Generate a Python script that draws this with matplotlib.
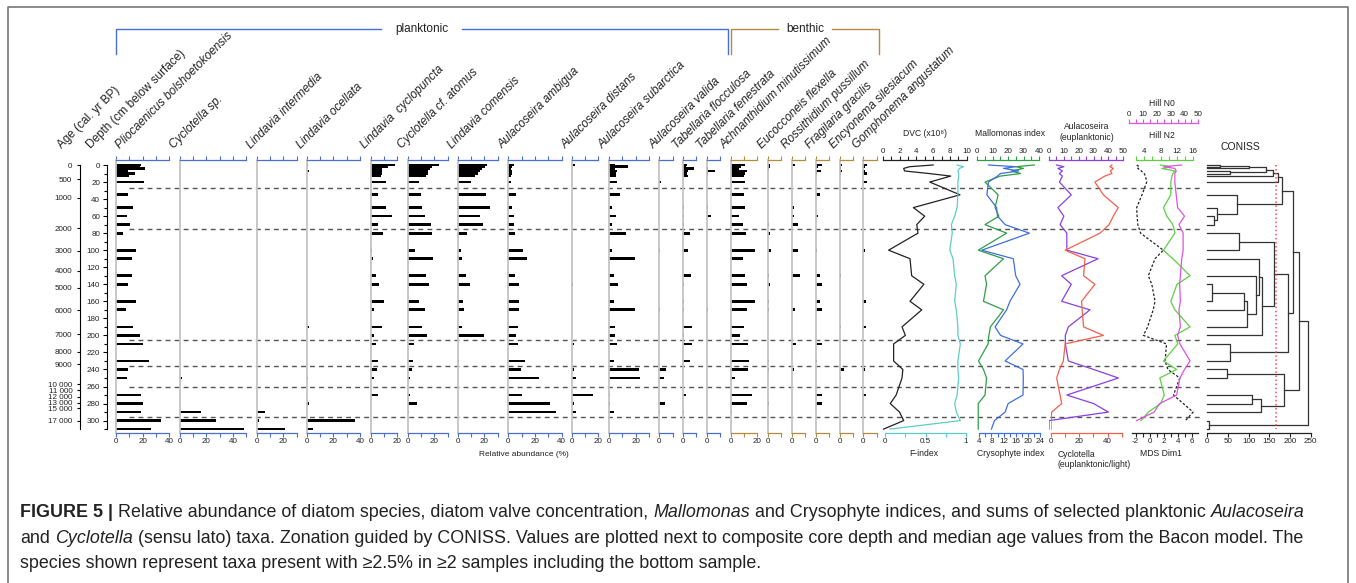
# Diatom stratigraphy: species bars, summary curves and CONISS, drawn on one pixel grid.

import numpy as np
import matplotlib
matplotlib.use("Agg")
import matplotlib.pyplot as plt
from matplotlib.transforms import blended_transform_factory

plt.rcParams["font.family"] = ["Liberation Sans", "DejaVu Sans"]

nan = np.nan

# ---- values (one entry per sample depth) ----
DEPTHS = [0, 2, 4, 7, 10, 13, 20, 35, 50, 60, 70, 80, 100, 110, 130, 140, 160, 170,
          190, 200, 210, 230, 240, 250, 270, 280, 290, 300, 310]

AGE_LABELS = ["0", "500", "1000", "2000", "3000", "4000", "5000", "6000", "7000", "8000",
              "9000", "10 000", "11 000", "12 000", "13 000", "15 000", "17 000"]
AGE_DEPTHS = [0, 16.8, 38.4, 74.3, 100.9, 124.4, 144, 170.6, 198.8, 219.2, 234, 257.5,
              264.1, 272, 279, 285.6, 300]
ZONE_DEPTHS = [27.5, 75, 205.5, 236.5, 261, 295.5]

PLIOCAENICUS = [19, 18, 22, 9, 14, 10, 21, 9, 13, 8, 10.5, 5, 15, 12, 12, 9, 15, 7.5, 12.5, 18,
                20.5, 24.5, 9, 8, 18.5, 20, 19, 34, 26]
CYCLOTELLA_SP = [0, 0, 0, 0, 0, 0, 0, 0, 0, 0, 0, 0, 0, 0, 0, 0, 0, 0, 0, 0,
                 0, 0, 0, 2, 0, 0, 16, 27, 48]
L_INTERMEDIA = [0, 0, 0, 0, 0, 0, 0, 0, 0, 0, 0, 0, 0, 0, 0, 0, 0, 0, 0, 0,
                0, 0, 0, 0, 0, 0, 6, 1.5, 21]
L_OCELLATA = [1, 0.5, 0, 1.5, 0, 0, 0.5, 0.5, 0.5, 0, 0.5, 0, 0, 0.5, 0, 0, 0, 0.5, 1.5, 0.5,
              0, 0, 0, 1, 0, 1.5, 0, 36, 4.5]
L_CYCLOPUNCTA = [18.5, 13.5, 9, 8.5, 9, 8, 12, 6, 12, 16, 6, 9.5, 1.5, 2, 4, 6.5, 10, 3, 9, 3,
                 4.5, 6, 5, 2.5, 6, 0, 0, 0, 0]
C_ATOMUS = [23.5, 18, 17, 15.5, 15, 14, 8.5, 10, 11, 13, 17.5, 18, 5.5, 19, 13.5, 16, 8.5, 13,
            11, 14.5, 5, 4, 3, 1.5, 1.5, 7, 1, 0, 0]
L_COMENSIS = [22, 20.5, 18, 17, 15, 13, 10, 21, 24, 17, 19, 7, 2.5, 3.5, 6, 9, 4, 5, 3, 20,
              0, 1, 0.5, 0.5, 0.5, 0.5, 0, 0, 0]
A_AMBIGUA = [4, 3, 2, 3, 3, 2, 2, 6, 3, 4, 4, 5, 11, 14, 5, 8, 8, 8, 7.5, 6,
             7, 12.5, 9.5, 23, 10.5, 31, 35.5, 0, 0]
A_DISTANS = [2.5, 0, 0, 0, 0, 0, 0.5, 0.5, 0, 0, 0.5, 0, 0, 0, 0.5, 1, 0, 0, 0, 0,
             2, 0, 1.5, 3.5, 16, 2, 3, 0, 0]
A_SUBARCTICA = [4.5, 14, 4.5, 6, 5, 5, 6, 8, 2, 5, 2.5, 13, 2, 19.5, 4, 7, 4, 19.5, 4.5, 4.5,
                6, 4, 22.5, 23, 1, 0.5, 4, 0, 0]
A_VALIDA = [0, 0, 0, 0, 0, 0, 1.5, 0, 0, 0, 0, 0, 0.5, 0, 0, 0, 0, 0.5, 0, 0,
            0, 0, 5, 3.5, 0, 4, 0.5, 0, 0]
T_FLOCCULOSA = [3, 2, 8.5, 4, 3, 4, 0, 0, 1, 1, 1, 5, 4, 0, 6, 1, 1, 1, 7, 1,
                6.5, 5, 0, 0, 2, 0, 1, 0, 0]
T_FENESTRATA = [0, 0, 1, 6, 1, 0, 0, 0, 1, 3, 0.5, 0, 0, 0.5, 0.5, 0, 0, 1, 0, 0,
                0, 0, 0, 0, 0, 0, 0, 0, 0]
ACHNANTHIDIUM = [11, 8, 6.5, 12, 11, 10, 11, 10, 11, 6, 9, 11.5, 18, 9, 11, 12, 18, 12, 10, 7,
                 13, 14, 13, 3, 16, 12.5, 1, 0, 0]
EUCOCCONEIS = [2, 1.5, 1, 0.5, 0, 0, 0.5, 0.5, 0.5, 0, 1, 2, 2.5, 0, 1, 2, 1, 1, 0.5, 0.5,
               0, 1, 1, 0, 0, 1, 0, 0, 0]
ROSSITHIDIUM = [2.5, 0, 0, 0, 0.5, 0, 0, 0, 2, 2, 5, 0, 5, 0, 6.5, 0, 0, 2.5, 0, 0.5,
                3, 0, 2, 0, 0, 0.5, 0, 0, 0]
FRAGILARIA = [5, 2, 0, 4, 1, 0, 0, 3, 0, 2, 0, 0, 1, 0, 3, 5, 3, 4.5, 0, 0,
              5, 1, 0, 0, 5, 4.5, 0, 0, 0]
ENCYONEMA = [2, 1, 1, 1.5, 1, 0, 0, 0, 0.5, 0.5, 0.5, 0, 0, 0, 1, 0, 0, 0, 1, 0,
             0, 0, 3, 1, 0, 0, 0, 0, 0]
GOMPHONEMA = [2.5, 1, 0, 1, 3, 0, 3, 0, 0, 0, 0, 0, 1, 0, 0, 0, 2, 0, 2, 0,
              0, 0, 1, 0, 2, 0, 0, 0, 0]

DVC = [6.0, 3.2, 2.5, 2.6, 5.5, 8.1, 5.6, 9.2, 3.65, 5.0, 4.05, 4.2, 0.7, 3.25, 3.45, 4.9,
       3.25, 4.65, 2.3, 2.7, 1.3, 1.3, 2.4, 2.3, 1.6, 0.9, 2.0, 2.5, 0.1]
F_INDEX = [0.89, 0.97, 0.92, 0.9, 0.91, 0.91, 0.9, 0.9, 0.89, 0.86, 0.82, 0.83, 0.8, 0.84,
           0.86, 0.88, 0.86, 0.88, 0.9, 0.9, 0.93, 0.9, 0.9, 0.91, 0.89, 0.86, 0.88, 0.93, 0.06]
MALLOMONAS = [37, 25, 30, 22, 28, 15, 5, 13.5, 11.5, 14, 5, 19, 0.6, 17, 5, 6, 4, 17, 8.5, 7.5,
              7, 0.8, 4, 6, 5, 0.6, 0.6, 0.6, 0.6]
CRYSOPHYTE = [7, 16, 12, 17, 11, 10, 7, 6.5, 9.7, 10, 12.5, 20.5, 4.8, 15.2, 16, 17.4, 14.1,
              13, 9.2, 11, 18.4, 12.5, 18.4, 18.5, 18.4, 13.5, 12.5, 9, 8]
AULACOSEIRA_EU = [5, 10, 6, 9, 7, 9, 7, 15, 6, 10, 7.5, 12, 12, 33, 8.5, 15, 8.5, 27.6, 13, 11,
                  11, 13, 30, 46.7, 12, 30, 40, 0, 0]
CYCLOTELLA_EU = [43, 41.6, 44, 42, 43, 38, 31, 37, 47.5, 44, 41, 34.6, 10, 24, 23, 31, 21.6, 22,
                 23, 37, 10, 8.7, 6, 4, 6.4, 7.5, 0.5, 0, 0]
MDS_DIM1 = [-1.86, -1.5, -1.7, -1.2, -0.8, -0.6, -0.43, -1.1, -1.86, -1.8, -1.7, -1.3, 1.95,
            0.76, -0.2, 0.3, 0.76, 0.5, -0.3, -0.9, 2.4, 2.2, 2.6, 4.3, 3.4, 4.8, 6.2, 5.1, nan]
HILL_N2 = [8, 10.5, 8.3, 11.5, 11, 10.8, 10.5, 10.5, 8.7, 9.5, 11, 11.5, 8.7, 11, 15.2, 12,
           10.5, 11.5, 15.2, 11.5, 12.2, 8.7, 11.9, 7.8, 8.9, 8, 5, 3.2, nan]
HILL_N0 = [38, 25, 33, 34, 33, 33, 33, 34, 35, 40, 36, 39, 39, 38, 37, 36.5, 37, 36, 37, 35,
           36.7, 44, 40, 36.7, 34.3, 22, 18, 5.3, nan]

# CONISS merges: (node a, node b, total sum of squares); leaves are sample indices,
# each merge gets the next node number
CONISS_MERGES = [
    (0, 1, 30), (29, 2, 101), (3, 4, 55), (30, 31, 143), (32, 5, 160), (33, 6, 170),
    (9, 10, 16), (8, 35, 23), (7, 36, 71), (34, 37, 180), (11, 12, 77), (15, 16, 11),
    (40, 17, 88), (41, 18, 96), (14, 42, 118), (13, 43, 124), (44, 19, 133), (39, 45, 161),
    (20, 21, 56), (46, 47, 196), (38, 48, 208), (22, 23, 48), (24, 25, 107), (51, 26, 131),
    (50, 52, 185), (49, 53, 222), (27, 28, 4), (54, 55, 244),
]
CONISS_CUT = 166

# ---- layout (pixels of the 1356x583 canvas) ----
W, H = 1356, 583
TOP_PX, BOTTOM_PX = 160, 433
DEPTH0_PX, PX_PER_CM = 165, 0.852
PCT_PX = 1.333
BLUE, GOLD = "#4a6fd0", "#b48c3c"
INK = "#222222"

PLANKTONIC, BENTHIC = BLUE, GOLD
SPECIES = [
    ("Pliocaenicus bolshoetokoensis", PLIOCAENICUS, 40, PLANKTONIC),
    ("Cyclotella sp.", CYCLOTELLA_SP, 50, PLANKTONIC),
    ("Lindavia intermedia", L_INTERMEDIA, 30, PLANKTONIC),
    ("Lindavia ocellata", L_OCELLATA, 40, PLANKTONIC),
    ("Lindavia  cyclopuncta", L_CYCLOPUNCTA, 20, PLANKTONIC),
    ("Cyclotella cf. atomus", C_ATOMUS, 30, PLANKTONIC),
    ("Lindavia comensis", L_COMENSIS, 30, PLANKTONIC),
    ("Aulacoseira ambigua", A_AMBIGUA, 40, PLANKTONIC),
    ("Aulacoseira distans", A_DISTANS, 20, PLANKTONIC),
    ("Aulacoseira subarctica", A_SUBARCTICA, 30, PLANKTONIC),
    ("Aulacoseira valida", A_VALIDA, 10, PLANKTONIC),
    ("Tabellaria flocculosa", T_FLOCCULOSA, 10, PLANKTONIC),
    ("Tabellaria fenestrata", T_FENESTRATA, 10, PLANKTONIC),
    ("Achnanthidium minutissimum", ACHNANTHIDIUM, 20, BENTHIC),
    ("Eucocconeis flexella", EUCOCCONEIS, 10, BENTHIC),
    ("Rossithidium pussillum", ROSSITHIDIUM, 10, BENTHIC),
    ("Fragilaria gracilis", FRAGILARIA, 10, BENTHIC),
    ("Encyonema silesiacum", ENCYONEMA, 10, BENTHIC),
    ("Gomphonema angustatum", GOMPHONEMA, 10, BENTHIC),
]
PANEL_X = [116, 179.7, 256.7, 306.7, 370.5, 407.7, 457.7, 508.3, 571.7, 609, 659.3, 683,
           706.7, 730.7, 767.7, 791.7, 815.7, 839.7, 863.3]

CAPTION = [
    [("FIGURE 5 |", "bold"),
     ("Relative abundance of diatom species, diatom valve concentration,", "normal"),
     ("Mallomonas", "italic"),
     ("and Crysophyte indices, and sums of selected planktonic", "normal"),
     ("Aulacoseira", "italic")],
    [("and", "normal"), ("Cyclotella", "italic"),
     ("(sensu lato) taxa. Zonation guided by CONISS. Values are plotted next to composite "
      "core depth and median age values from the Bacon model. The", "normal")],
    [("species shown represent taxa present with \u22652.5% in \u22652 samples including "
      "the bottom sample.", "normal")],
]
CAPTION_Y = [517, 543, 568]
CAPTION_SIZE = 12.9

fig = plt.figure(figsize=(W / 100, H / 100), dpi=100)

overlay = fig.add_axes([0, 0, 1, 1])
overlay.set_axis_off()
overlay.set_xlim(0, W)
overlay.set_ylim(H, 0)


def px_axes(x0, x1):
    ax = fig.add_axes([x0 / W, 1 - BOTTOM_PX / H, (x1 - x0) / W, (BOTTOM_PX - TOP_PX) / H])
    ax.patch.set_alpha(0)
    ax.set_ylim((BOTTOM_PX - DEPTH0_PX) / PX_PER_CM, (TOP_PX - DEPTH0_PX) / PX_PER_CM)
    ax.set_yticks([])
    for spine in ax.spines.values():
        spine.set_visible(False)
    return ax


def tick_labels(ticks, every):
    return [f"{t:g}" if np.isclose(t / every, round(t / every)) else "" for t in ticks]


def value_axes(x0, x1, lim, side, color, ticks, labels, offset=0):
    ax = px_axes(x0, x1)
    ax.set_xlim(*lim)
    spine = ax.spines[side]
    spine.set_visible(True)
    spine.set_color(color)
    spine.set_linewidth(0.9)
    if offset:
        spine.set_position(("outward", offset))
    ax.xaxis.set_ticks_position(side)
    ax.set_xticks(ticks, labels)
    ax.tick_params(axis="x", colors=color, labelcolor=INK, labelsize=5.8,
                   length=2.6, width=0.8, pad=1.2)
    return ax


# ---- age and depth scales ----
age_ax = px_axes(80, 81)
age_ax.spines["left"].set_visible(True)
age_ax.spines["left"].set_bounds(0, 310)
age_ax.set_yticks(AGE_DEPTHS, AGE_LABELS)
age_ax.set_xticks([])
age_ax.tick_params(axis="y", length=2.5, width=0.8, pad=3, labelsize=5.8, labelcolor=INK)

depth_ax = px_axes(107, 108)
depth_ax.spines["left"].set_visible(True)
depth_ax.spines["left"].set_bounds(0, 310)
depth_ax.set_yticks(np.arange(0, 301, 20))
depth_ax.set_yticks(np.arange(10, 311, 20), minor=True)
depth_ax.set_xticks([])
depth_ax.tick_params(axis="y", which="major", length=3, width=0.8, pad=2, labelsize=5.8,
                     labelcolor=INK)
depth_ax.tick_params(axis="y", which="minor", length=2, width=0.8)

# ---- species panels ----
ref_ax = None
for i, ((name, values, xmax, color), x0) in enumerate(zip(SPECIES, PANEL_X)):
    ax = px_axes(x0, x0 + xmax * PCT_PX)
    ax.set_xlim(0, xmax)
    ax.barh(DEPTHS, values, height=3.2, color="black", linewidth=0)
    ax.spines["left"].set_visible(True)
    ax.spines["left"].set_color("#c4c4c4")
    ax.spines["left"].set_linewidth(1.3)
    for side in ("top", "bottom"):
        ax.spines[side].set_visible(True)
        ax.spines[side].set_color(color)
        ax.spines[side].set_linewidth(0.9)
    ticks = np.arange(0, xmax + 1, 10)
    ax.set_xticks(ticks, tick_labels(ticks, 20))
    ax.tick_params(axis="x", top=True, bottom=True, labeltop=False, colors=color,
                   labelcolor=INK, labelsize=5.8, length=2.6, width=0.8, pad=1.2)
    dx = 4 if i == 0 else -6
    overlay.text(x0 + dx, 149, name, rotation=45, rotation_mode="anchor", ha="left",
                 va="baseline", fontsize=8.5, style="italic", color=INK)
    ref_ax = ax

overlay.text(62, 149, "Age (cal. yr BP)", rotation=45, rotation_mode="anchor", ha="left",
             va="baseline", fontsize=8.5, color=INK)
overlay.text(91, 149, "Depth (cm below surface)", rotation=45, rotation_mode="anchor",
             ha="left", va="baseline", fontsize=8.5, color=INK)
overlay.text(523.7, 454, "Relative abundance (%)", ha="center", va="center", fontsize=6,
             color=INK)

# ---- summary curves ----
TEAL, GREEN, CBLUE = "#5ccfc4", "#2f9e46", "#3f6fe0"
PURPLE, RED, LGREEN, MAGENTA = "#8a40e0", "#f2604c", "#5ccf45", "#e052e0"

ax = value_axes(882.7, 966.7, (0, 10), "top", INK, np.arange(0, 11, 1),
                tick_labels(np.arange(0, 11, 1), 2))
ax.plot(DVC, DEPTHS, color="#222222", lw=0.9)
ax = value_axes(885, 966, (0, 1), "bottom", TEAL, [0, 0.25, 0.5, 0.75, 1],
                ["0", "", "0.5", "", "1"])
ax.plot(F_INDEX, DEPTHS, color=TEAL, lw=0.9)

ax = value_axes(977.3, 1039, (0, 40), "top", GREEN, np.arange(0, 41, 5),
                tick_labels(np.arange(0, 41, 5), 10))
ax.plot(MALLOMONAS, DEPTHS, color=GREEN, lw=0.9)
ax = value_axes(979.3, 1040, (4, 24), "bottom", CBLUE, np.arange(4, 25, 2),
                tick_labels(np.arange(4, 25, 2), 4))
ax.plot(CRYSOPHYTE, DEPTHS, color=CBLUE, lw=0.9)

ax = value_axes(1049, 1123.3, (0, 50), "top", PURPLE, np.arange(0, 51, 5),
                tick_labels(np.arange(0, 51, 5), 10))
ax.plot(AULACOSEIRA_EU, DEPTHS, color=PURPLE, lw=0.9)
ax = value_axes(1051, 1121.8, (0, 50), "bottom", RED, np.arange(0, 51, 10),
                tick_labels(np.arange(0, 51, 10), 20))
ax.plot(CYCLOTELLA_EU, DEPTHS, color=RED, lw=0.9)

ax = value_axes(1132.3, 1198.3, (-2.486, 6.943), "bottom", INK, np.arange(-2, 7, 1),
                tick_labels(np.arange(-2, 7, 1), 2))
ax.plot(MDS_DIM1, DEPTHS, color="#222222", lw=0.9, ls=(0, (2, 1.5)))
ax = value_axes(1136.1, 1193.3, (2, 16), "top", LGREEN, np.arange(2, 17, 2),
                tick_labels(np.arange(2, 17, 2), 4))
ax.plot(HILL_N2, DEPTHS, color=LGREEN, lw=0.9)
ax = value_axes(1129.3, 1198.3, (0, 50), "top", MAGENTA, np.arange(0, 51, 5),
                tick_labels(np.arange(0, 51, 5), 10), offset=26.4)
ax.plot(HILL_N0, DEPTHS, color=MAGENTA, lw=0.9)

# ---- CONISS dendrogram ----
ax = value_axes(1207.3, 1310.7, (0, 250), "bottom", INK, np.arange(0, 251, 50),
                tick_labels(np.arange(0, 251, 50), 50))
node_y = list(DEPTHS)
node_x = [0.0] * len(DEPTHS)
for a, b, h in CONISS_MERGES:
    ax.plot([node_x[a], h, h, node_x[b]], [node_y[a], node_y[a], node_y[b], node_y[b]],
            color="#333333", lw=0.9, clip_on=False)
    node_y.append((node_y[a] + node_y[b]) / 2)
    node_x.append(h)
ax.plot([CONISS_CUT, CONISS_CUT], [0, 310], color="#ff4d4d", lw=1.1, ls=":")

# ---- titles of the curve panels ----
overlay.text(925, 133, "DVC (x10\u2078)", ha="center", va="center", fontsize=6.2, color=INK)
overlay.text(1010, 133, "Mallomonas index", ha="center", va="center", fontsize=6.2,
             color=INK)
overlay.text(1087, 132, "Aulacoseira\n(euplanktonic)", ha="center", va="center",
             fontsize=6.2, color=INK, linespacing=1.15)
overlay.text(1162, 103, "Hill N0", ha="center", va="center", fontsize=6.2, color=INK)
overlay.text(1162, 136, "Hill N2", ha="center", va="center", fontsize=6.2, color=INK)
overlay.text(1240, 147, "CONISS", ha="center", va="center", fontsize=7.5, color=INK)
overlay.text(924.3, 454, "F-index", ha="center", va="center", fontsize=6.2, color=INK)
overlay.text(1010.5, 454, "Crysophyte index", ha="center", va="center", fontsize=6.2,
             color=INK)
overlay.text(1058, 459.5, "Cyclotella\n(euplanktonic/light)", ha="left", va="center",
             fontsize=6.2, color=INK, linespacing=1.15)
overlay.text(1160.7, 454, "MDS Dim1", ha="center", va="center", fontsize=6.2, color=INK)

# ---- zone boundaries, group brackets, frame ----
zone_trans = blended_transform_factory(overlay.transData, ref_ax.transData)
for d in ZONE_DEPTHS:
    overlay.plot([129, 1200], [d, d], transform=zone_trans, color="#555555", lw=1,
                 ls=(0, (3.5, 3)), clip_on=False)

overlay.plot([116, 116, 381], [54, 29, 29], color=BLUE, lw=1)
overlay.plot([461.7, 728.3, 728.3], [29, 29, 54], color=BLUE, lw=1)
overlay.text(421.7, 29, "planktonic", ha="center", va="center", fontsize=8.5, color=INK)
overlay.plot([730.7, 730.7, 778], [54, 29, 29], color=GOLD, lw=1)
overlay.plot([832.3, 879.3, 879.3], [29, 29, 54], color=GOLD, lw=1)
overlay.text(805, 29, "benthic", ha="center", va="center", fontsize=8.5, color=INK)

overlay.plot([8, 8, 1348, 1348], [H, 7, 7, H], color="#777777", lw=1.2, clip_on=False)

# ---- caption, laid out run by run ----
renderer = fig.canvas.get_renderer()
NARROW = ["Liberation Sans Narrow", "Liberation Sans", "DejaVu Sans"]


def run_width(s, **kw):
    t = overlay.text(0, 0, s, fontsize=CAPTION_SIZE, **kw)
    w = t.get_window_extent(renderer).width
    t.remove()
    return w


space = run_width("a a") - run_width("aa")
for y, runs in zip(CAPTION_Y, CAPTION):
    x = 20
    for s, style in runs:
        if style == "bold":
            kw = {"fontweight": "bold"}
        elif style == "italic":
            kw = {"fontstyle": "italic", "family": NARROW}
        else:
            kw = {}
        t = overlay.text(x, y, s, fontsize=CAPTION_SIZE, ha="left", va="baseline",
                         color=INK, **kw)
        x += t.get_window_extent(renderer).width + space

fig.savefig("out.png", dpi=100)
